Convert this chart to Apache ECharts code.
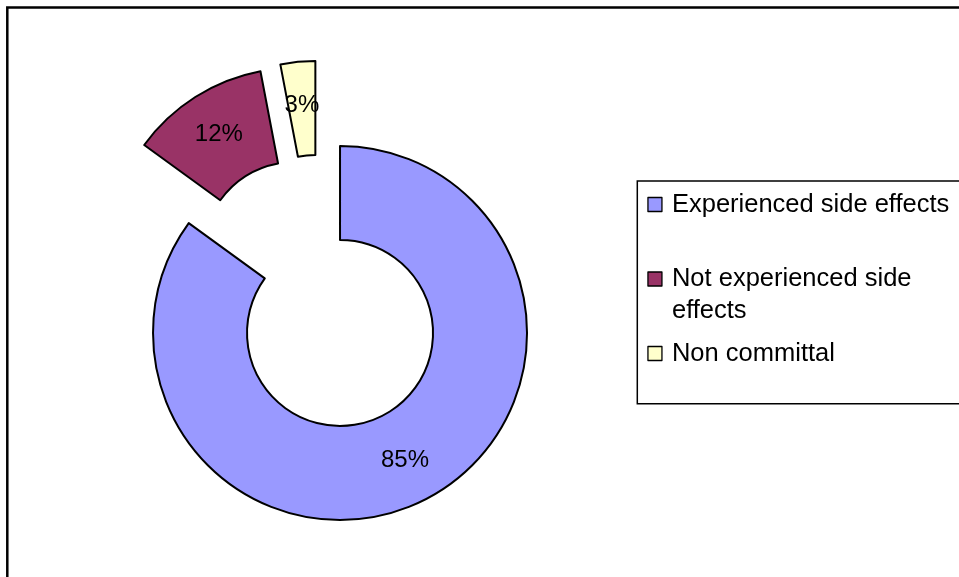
<!DOCTYPE html>
<html>
<head>
<meta charset="utf-8">
<script src="https://cdn.jsdelivr.net/npm/echarts@6/dist/echarts.min.js"></script>
<style>
  html, body { margin: 0; padding: 0; background: #fff; }
  #chart { width: 959px; height: 577px; }
</style>
</head>
<body>
<div id="chart"></div>
<script>
// Survey responses (percent of respondents)
const categories = ['Experienced side effects', 'Not experienced side effects', 'Non committal'];
const values = [85, 12, 3];
const colors = ['#9999FF', '#993366', '#FFFFCC'];
// Legend text; the long entry wraps onto two lines. The leading blank line
// keeps its first line level with the marker (legend text is centred on it).
const legendLabels = ['Experienced side effects', '\nNot experienced side\neffects', 'Non committal'];

const FONT = "'Liberation Sans', Arial, sans-serif";

const pieData = categories.map((name, i) => ({
  name: name,
  value: values[i],
  selected: true,
  itemStyle: { color: colors[i] }
}));

const chart = echarts.init(document.getElementById('chart'), null, { renderer: 'canvas' });

chart.setOption({
  animation: false,
  backgroundColor: '#ffffff',
  graphic: [{
    type: 'rect',
    silent: true,
    shape: { x: 7.3, y: 7.5, width: 1400, height: 1000 },
    style: { fill: 'none', stroke: '#000', lineWidth: 2.5 },
    z: 0
  }],
  legend: {
    orient: 'vertical',
    left: 637.3,
    top: 181,
    padding: [7.5, 300, 34.3, 10],
    itemGap: 10.5,
    itemWidth: 14,
    itemHeight: 14,
    icon: 'rect',
    borderColor: '#000',
    borderWidth: 1.5,
    backgroundColor: '#fff',
    selectedMode: false,
    itemStyle: { borderColor: '#000', borderWidth: 1.3 },
    data: categories,
    formatter: name => legendLabels[categories.indexOf(name)],
    textStyle: {
      fontFamily: FONT,
      fontSize: 25.5,
      color: '#000',
      lineHeight: 32,
      padding: [0, 0, 0, 5],
      backgroundColor: 'transparent'
    }
  },
  series: [{
    type: 'pie',
    center: [319.6, 292.9],
    radius: [93, 187],
    startAngle: 90,
    clockwise: true,
    selectedMode: 'multiple',
    selectedOffset: 45,
    avoidLabelOverlap: false,
    emphasis: { disabled: true },
    itemStyle: { borderColor: '#000', borderWidth: 2 },
    label: {
      show: true,
      position: 'inside',
      formatter: p => p.value + '%',
      fontFamily: FONT,
      fontSize: 24,
      color: '#000'
    },
    labelLine: { show: false },
    data: pieData
  }]
});
</script>
</body>
</html>
